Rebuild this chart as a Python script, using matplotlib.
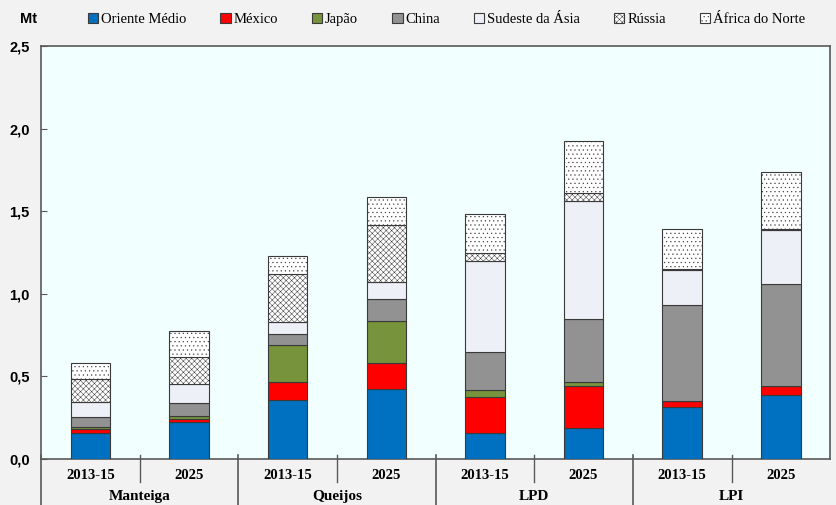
import matplotlib
matplotlib.use("Agg")
import matplotlib.pyplot as plt
import numpy as np

# data (Mt)
groups = ["Manteiga", "Queijos", "LPD", "LPI"]
periods = ["2013-15", "2025"] * 4
series = ["Oriente Médio", "México", "Japão", "China", "Sudeste da Ásia", "Rússia", "África do Norte"]
oriente = [0.155, 0.222, 0.355, 0.422, 0.160, 0.186, 0.315, 0.387]
mexico = [0.025, 0.022, 0.109, 0.157, 0.214, 0.254, 0.036, 0.057]
japao = [0.012, 0.018, 0.228, 0.258, 0.042, 0.024, 0.000, 0.000]
china = [0.060, 0.075, 0.063, 0.132, 0.232, 0.382, 0.581, 0.615]
sudeste = [0.091, 0.119, 0.072, 0.102, 0.549, 0.716, 0.210, 0.327]
russia = [0.139, 0.160, 0.291, 0.345, 0.048, 0.048, 0.006, 0.004]
africa = [0.097, 0.159, 0.111, 0.170, 0.236, 0.313, 0.244, 0.346]
yticks = [0.0, 0.5, 1.0, 1.5, 2.0, 2.5]

colors = ["#0070C0", "#FF0000", "#77933C", "#929292", "#EEF0F8", "white", "white"]
hatches = [None, None, None, None, None, "xxxxxx", "...."]

plt.rcParams["hatch.linewidth"] = 0.35
sans = ["Liberation Sans Narrow", "Liberation Sans", "DejaVu Sans"]
serif = ["Liberation Serif", "DejaVu Serif"]

fig = plt.figure(figsize=(8.36, 5.05), dpi=100, facecolor="#F2F2F2")
ax = fig.add_axes([0.049, 0.091, 0.944, 0.818])
ax.set_facecolor("#F2FFFF")

x = np.arange(len(periods))
bottom = np.zeros(len(periods))
handles = []
for vals, name, c, h in zip([oriente, mexico, japao, china, sudeste, russia, africa],
                            series, colors, hatches):
    vals = np.array(vals)
    b = ax.bar(x, vals, 0.4, bottom=bottom, color=c, edgecolor="#3A3A3A",
               linewidth=0.8, hatch=h, label=name, zorder=3)
    handles.append(b)
    bottom += vals

ax.set_xlim(-0.5, len(periods) - 0.5)
ax.set_ylim(0, 2.5)
ax.set_yticks(yticks)
ax.set_yticklabels([f"{v:.1f}".replace(".", ",") for v in yticks],
                   family=sans, fontweight="bold", fontsize=10.5)
ax.tick_params(axis="y", direction="in", length=4, color="#595959", pad=8)
ax.tick_params(axis="x", length=0, labelbottom=False)
for s in ax.spines.values():
    s.set_color("#595959")
    s.set_linewidth(1.2)

# two-level category axis
tr = ax.get_xaxis_transform()
for i, p in enumerate(periods):
    ax.text(i, -0.039, p, transform=tr, ha="center", va="center",
            family=serif, fontweight="bold", fontsize=10.5)
for g, name in enumerate(groups):
    ax.text(2 * g + 0.5, -0.091, name, transform=tr, ha="center", va="center",
            family=serif, fontweight="bold", fontsize=11)
    ax.plot([2 * g + 0.5] * 2, [0.01, -0.056], transform=tr, color="#595959",
            lw=1, clip_on=False)
    ax.plot([2 * g - 0.5] * 2, [0.01, -0.12], transform=tr, color="#595959",
            lw=1.2, clip_on=False)

fig.text(0.024, 0.963, "Mt", family=sans, fontweight="bold", fontsize=10.5,
         ha="left", va="center")
fig.legend(handles=handles, loc="center", bbox_to_anchor=(0.534, 0.962), ncol=7,
           frameon=False, handlelength=0.7, handleheight=0.7, handletextpad=0.2,
           columnspacing=2.33, prop={"family": serif, "size": 10.5})

fig.savefig("out.png", dpi=100, facecolor=fig.get_facecolor())
